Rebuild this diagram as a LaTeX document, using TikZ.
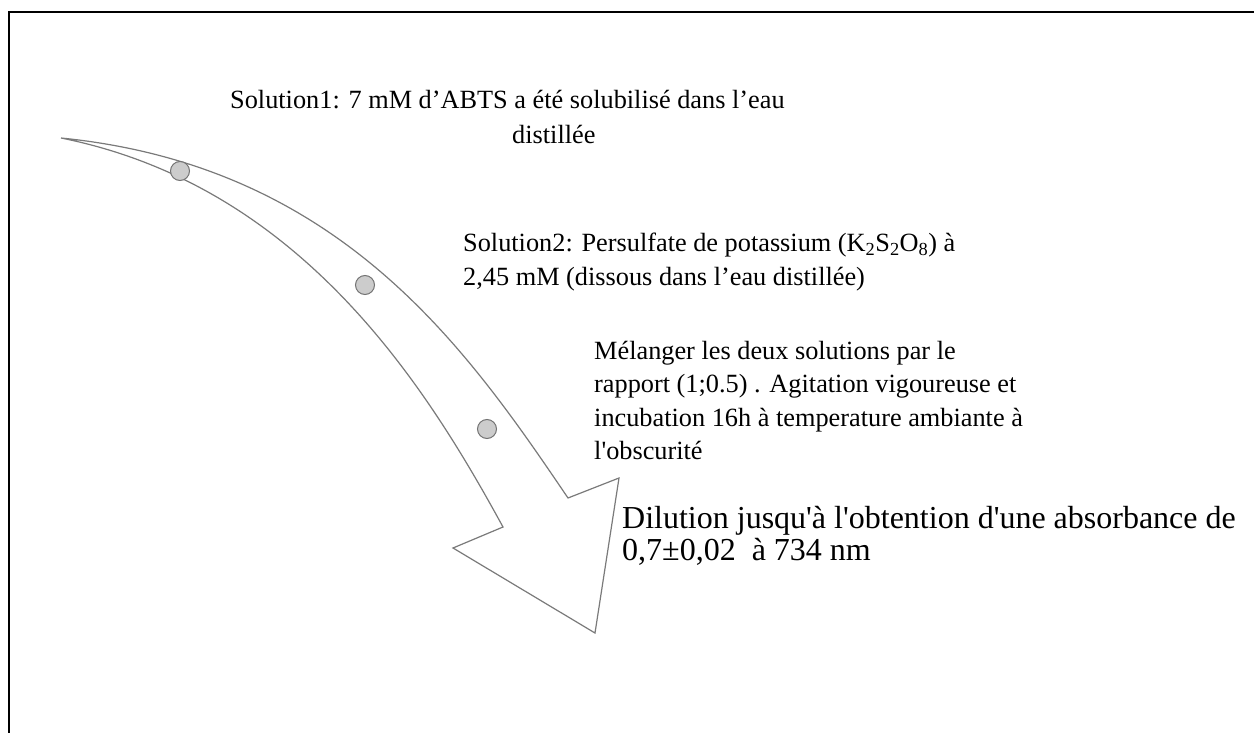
\documentclass[tikz,border=0pt]{standalone}
\usepackage{fontspec}
\setmainfont{Liberation Serif}
\begin{document}
\begin{tikzpicture}[x=1pt,y=-1pt,
  frameline/.style={line width=2.5pt,draw=black},
  arrowshape/.style={draw=black!52,line width=1.2pt,fill=white,line join=miter},
  dot/.style={circle,draw=black!55,line width=1pt,fill=black!20,minimum size=19pt,inner sep=0pt},
  txt/.style={anchor=north west,align=left,inner sep=0pt,font=\fontsize{26.3}{33.5}\selectfont}]
\useasboundingbox (0,0) rectangle (1254,733);
\coordinate (fa) at (9,733);
\coordinate (fb) at (9,12);
\coordinate (fc) at (1254,12);
\draw[frameline] (fa) -- (fb) -- (fc);
\coordinate (tail) at (61,138);
\coordinate (ua) at (568,498);
\coordinate (ub) at (619,478);
\coordinate (tip) at (595,633);
\coordinate (lb) at (453,548);
\coordinate (la) at (503,527);
\draw[arrowshape] (tail) .. controls (341,166) and (467,349) .. (ua)
  -- (ub) -- (tip) -- (lb) -- (la)
  .. controls (426,386) and (301,186) .. (tail) -- cycle;
\node[dot] (d1) at (180,171) {};
\node[dot] (d2) at (365,285) {};
\node[dot] (d3) at (487,429) {};
\node[txt,font=\fontsize{26.3}{35}\selectfont] (t1) at (230,90) {Solution1: 7 mM d’ABTS a été solubilisé dans l’eau\\\hspace*{282pt}distillée};
\node[txt] (t2) at (463,233) {Solution2: Persulfate de potassium (K\textsubscript{2}S\textsubscript{2}O\textsubscript{8}) à\\2,45 mM (dissous dans l’eau distillée)};
\node[txt] (t3) at (594,341) {Mélanger les deux solutions par le\\rapport (1;0.5) . Agitation vigoureuse et\\incubation 16h à temperature ambiante à\\l\textquotesingle obscurité};
\node[txt,font=\fontsize{32}{32.5}\selectfont] (t4) at (622,506) {Dilution jusqu\textquotesingle à l\textquotesingle obtention d\textquotesingle une absorbance de\\0,7±0,02\ \ à 734 nm};
\end{tikzpicture}
\end{document}
